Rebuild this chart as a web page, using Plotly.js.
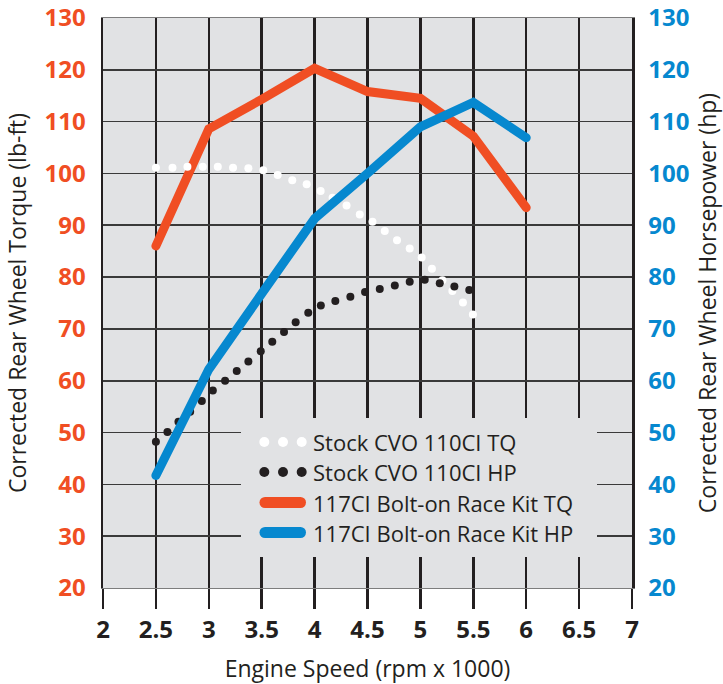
<!DOCTYPE html>
<html>
<head>
<meta charset="utf-8">
<script src="https://cdn.plot.ly/plotly-3.0.1.min.js"></script>
<style>
  html, body { margin: 0; padding: 0; background: #ffffff; }
  #chart { width: 723px; height: 684px; }
</style>
</head>
<body>
<div id="chart"></div>
<script>
// ---- data ----
const rpmStockTq = [2.5, 2.657, 2.798, 2.943, 3.085, 3.229, 3.374, 3.515, 3.651, 3.789, 3.925, 4.057, 4.170, 4.302, 4.427, 4.547, 4.663, 4.779, 4.899, 5.012, 5.109, 5.208, 5.302, 5.402, 5.496];
const stockTq    = [101.1, 101.1, 101.3, 101.3, 101.3, 101.1, 101.0, 100.6, 99.7, 98.7, 97.9, 96.6, 95.3, 93.8, 92.1, 90.7, 88.9, 87.1, 85.5, 83.8, 81.6, 79.4, 77.3, 75.1, 72.8];

const rpmStockHp = [2.5, 2.609, 2.713, 2.824, 2.934, 3.038, 3.154, 3.264, 3.374, 3.491, 3.6, 3.711, 3.821, 3.940, 4.059, 4.196, 4.338, 4.477, 4.616, 4.758, 4.899, 5.041, 5.183, 5.321, 5.462];
const stockHp    = [48.2, 50.1, 52.1, 54.0, 56.1, 58.1, 60.0, 61.9, 63.7, 65.7, 67.5, 69.4, 71.3, 73.1, 74.5, 75.4, 76.2, 77.1, 77.7, 78.4, 79.1, 79.5, 78.8, 78.2, 77.5];

const rpmKit = [2.5, 3, 3.5, 4, 4.5, 5, 5.5, 6];
const kitTq  = [86.0, 108.6, 114.3, 120.3, 115.8, 114.5, 107.2, 93.4];
const kitHp  = [41.7, 62.2, 76.8, 91.3, 100.0, 109.0, 113.7, 106.9];

const seriesNames = ["Stock CVO 110CI TQ", "Stock CVO 110CI HP", "117CI Bolt-on Race Kit TQ", "117CI Bolt-on Race Kit HP"];
const xTickVals = [2, 2.5, 3, 3.5, 4, 4.5, 5, 5.5, 6, 6.5, 7];
const xTickText = ["2", "2.5", "3", "3.5", "4", "4.5", "5", "5.5", "6", "6.5", "7"];
const yTickVals = [20, 30, 40, 50, 60, 70, 80, 90, 100, 110, 120, 130];
const yTickText = ["20", "30", "40", "50", "60", "70", "80", "90", "100", "110", "120", "130"];

// ---- styling ----
const ORANGE = "#F04E23";
const BLUE = "#0688CF";
const INK = "#231F20";
const PLOTBG = "#E1E2E4";
const FONT = "Open Sans";

const M = {l: 103, r: 91, t: 18, b: 96};
const W = 723 - M.l - M.r, H = 684 - M.t - M.b;
const px = p => (p - M.l) / W;
const py = p => (684 - M.b - p) / H;

const traces = [
  {x: rpmStockHp, y: stockHp, yaxis: "y2", mode: "markers", name: seriesNames[1],
   marker: {color: INK, size: 8, line: {width: 0}}, showlegend: false, hoverinfo: "skip"},
  {x: rpmKit, y: kitTq, yaxis: "y", mode: "lines", name: seriesNames[2],
   line: {color: ORANGE, width: 9}, showlegend: false, hoverinfo: "skip"},
  {x: rpmStockTq, y: stockTq, yaxis: "y", mode: "markers", name: seriesNames[0],
   marker: {color: "#FFFFFF", size: 8, line: {width: 0}}, showlegend: false, hoverinfo: "skip"},
  {x: rpmKit, y: kitHp, yaxis: "y2", mode: "lines", name: seriesNames[3],
   line: {color: BLUE, width: 9}, showlegend: false, hoverinfo: "skip"}
];

// custom legend (box, symbols, labels)
const shapes = [];
const annotations = [];
shapes.push({type: "rect", xref: "paper", yref: "paper", layer: "above",
  x0: px(241), x1: px(597), y0: py(557), y1: py(418), fillcolor: PLOTBG, line: {width: 0}});
const rowY = [442, 472, 502.5, 532.5];
const dotX = [264.3, 283, 301.7];
[ "#FFFFFF", INK ].forEach((c, i) => {
  dotX.forEach(dx => {
    shapes.push({type: "circle", xref: "paper", yref: "paper", layer: "above",
      xsizemode: "pixel", ysizemode: "pixel", xanchor: px(dx), yanchor: py(rowY[i]),
      x0: -5, x1: 5, y0: -5, y1: 5, fillcolor: c, line: {width: 0}});
  });
});
[ORANGE, BLUE].forEach((c, i) => {
  shapes.push({type: "line", xref: "paper", yref: "paper", layer: "above",
    x0: px(265), x1: px(300.5), y0: py(rowY[i + 2]), y1: py(rowY[i + 2]),
    line: {color: c, width: 11}});
});
seriesNames.forEach((n, i) => {
  annotations.push({text: n, xref: "paper", yref: "paper", x: px(311), y: py(rowY[i]),
    xanchor: "left", yanchor: "middle", showarrow: false,
    font: {family: FONT, size: 22, color: INK}});
});

const layout = {
  width: 723, height: 684,
  margin: M,
  paper_bgcolor: "#FFFFFF",
  plot_bgcolor: PLOTBG,
  showlegend: false,
  xaxis: {
    range: [2, 7], tickvals: xTickVals, ticktext: xTickText,
    showgrid: true, gridcolor: INK, gridwidth: 2.5,
    zeroline: false,
    showline: true, linecolor: "#7d7d7d", linewidth: 1.2, mirror: true,
    ticks: "outside", ticklen: 20, tickwidth: 2.5, tickcolor: INK,
    ticklabelstandoff: 0,
    tickfont: {family: FONT, size: 24, weight: 700, color: INK},
    title: {text: "Engine Speed (rpm x 1000)", standoff: 24,
            font: {family: FONT, size: 23, color: INK}},
    fixedrange: true
  },
  yaxis: {
    range: [20, 130], tickvals: yTickVals, ticktext: yTickText,
    showgrid: true, gridcolor: "#3a3a3a", gridwidth: 1.6,
    zeroline: false,
    showline: true, linecolor: INK, linewidth: 2.5,
    ticks: "", ticklabelstandoff: 10,
    tickfont: {family: FONT, size: 24, weight: 700, color: ORANGE},
    title: {text: "Corrected Rear Wheel Torque (lb-ft)", standoff: 12,
            font: {family: FONT, size: 23, color: INK}},
    fixedrange: true
  },
  yaxis2: {
    range: [20, 130], tickvals: yTickVals, ticktext: yTickText,
    overlaying: "y", side: "right",
    showgrid: false, zeroline: false,
    showline: true, linecolor: INK, linewidth: 2.5,
    ticks: "", ticklabelstandoff: 9,
    tickfont: {family: FONT, size: 24, weight: 700, color: BLUE},
    title: {text: "Corrected Rear Wheel Horsepower (hp)", standoff: 12,
            font: {family: FONT, size: 23, color: INK}},
    fixedrange: true
  },
  shapes: shapes,
  annotations: annotations
};

Plotly.newPlot("chart", traces, layout, {displayModeBar: false, staticPlot: true}).then(() => {
  document.querySelectorAll(".scatterlayer .js-line, .shapelayer path").forEach(el => {
    el.style.strokeLinecap = "round";
    el.style.strokeLinejoin = "miter";
  });
});
</script>
</body>
</html>
